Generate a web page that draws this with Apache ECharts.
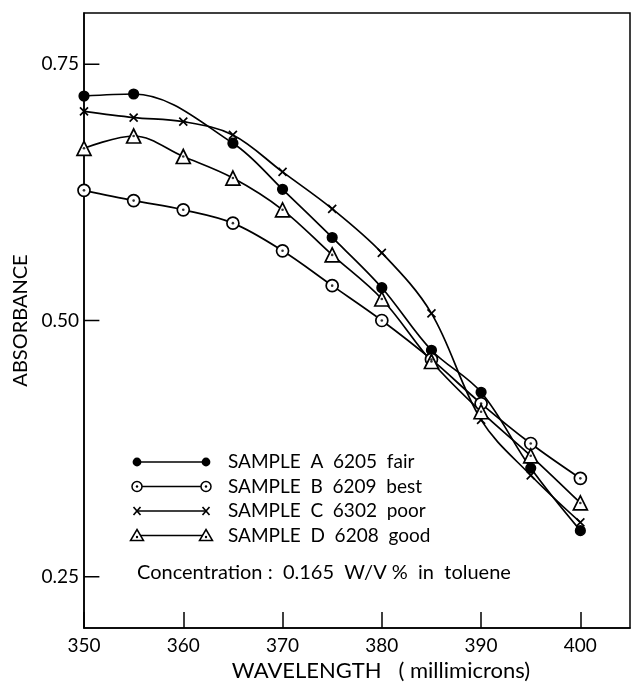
<!DOCTYPE html>
<html>
<head>
<meta charset="utf-8">
<script src="https://cdn.jsdelivr.net/npm/echarts@6/dist/echarts.min.js"></script>
<style>
html,body{margin:0;padding:0;background:#fff;}
#c{width:631px;height:687px;}
</style>
</head>
<body>
<div id="c"></div>
<script>
// ---- data ----
const wavelengths = [350, 355, 360, 365, 370, 375, 380, 385, 390, 395, 400];
const sampleA = [0.719, 0.721, null, 0.673, 0.628, 0.581, 0.532, 0.471, 0.430, 0.356, 0.295];
const sampleB = [0.627, 0.617, 0.608, 0.595, 0.568, 0.534, 0.500, 0.462, 0.419, 0.380, 0.346];
const sampleC = [0.704, 0.698, 0.694, 0.681, 0.645, 0.609, 0.566, 0.507, 0.403, 0.349, 0.303];
const sampleD = [0.668, 0.680, 0.660, 0.639, 0.608, 0.564, 0.521, 0.460, 0.411, 0.368, 0.322];
const xTicks = [350, 360, 370, 380, 390, 400];
const yTicks = [0.25, 0.50, 0.75];
const legendLabels = ['SAMPLE  A  6205  fair', 'SAMPLE  B  6209  best', 'SAMPLE  C  6302  poor', 'SAMPLE  D  6208  good'];
const noteText = 'Concentration :  0.165  W/V %  in  toluene';

const FONT = 'Lato, "Liberation Sans", sans-serif';
const pairs = arr => wavelengths.map((w, i) => [w, arr[i]]).filter(p => p[1] !== null);
const xPath = 'path://M0,0L10,10M10,0L0,10';
const X_MIN = 350, X_MAX = 405, Y_MIN = 0.2, Y_MAX = 0.8;

const chart = echarts.init(document.getElementById('c'), null, {renderer: 'canvas'});

function lineSeries(name, arr, symbol, size, fill) {
  return {
    name, type: 'line', data: pairs(arr), smooth: 0.35,
    symbol, symbolSize: size, showAllSymbol: true,
    lineStyle: {color: '#000', width: 1.7},
    itemStyle: {color: fill, borderColor: '#000', borderWidth: 1.7},
    z: 3
  };
}
function dotSeries(arr) {
  return {
    type: 'scatter', data: pairs(arr), symbol: 'circle', symbolSize: 2.6,
    itemStyle: {color: '#000'}, silent: true, z: 5
  };
}

// legend key drawn by hand
const legendGraphics = [];
const legendY0 = 462, legendDY = 24.5, lx1 = 137, lx2 = 206;
const legendSym = [
  (x, y) => ({type: 'circle', shape: {cx: x, cy: y, r: 4.4}, style: {fill: '#000'}}),
  (x, y) => ({type: 'group', children: [
      {type: 'circle', shape: {cx: x, cy: y, r: 5}, style: {fill: '#fff', stroke: '#000', lineWidth: 1.5}},
      {type: 'circle', shape: {cx: x, cy: y, r: 1.2}, style: {fill: '#000'}}]}),
  (x, y) => ({type: 'group', children: [
      {type: 'line', shape: {x1: x - 3.5, y1: y - 4, x2: x + 3.5, y2: y + 4}, style: {stroke: '#000', lineWidth: 1.6}},
      {type: 'line', shape: {x1: x + 3.5, y1: y - 4, x2: x - 3.5, y2: y + 4}, style: {stroke: '#000', lineWidth: 1.6}}]}),
  (x, y) => ({type: 'group', children: [
      {type: 'polygon', shape: {points: [[x, y - 6], [x + 6.5, y + 5], [x - 6.5, y + 5]]}, style: {fill: '#fff', stroke: '#000', lineWidth: 1.5}},
      {type: 'circle', shape: {cx: x, cy: y + 1.5, r: 1.2}, style: {fill: '#000'}}]})
];
legendLabels.forEach((lab, i) => {
  const y = legendY0 + i * legendDY;
  legendGraphics.push({type: 'line', shape: {x1: lx1, y1: y, x2: lx2, y2: y}, style: {stroke: '#000', lineWidth: 1.6}});
  legendGraphics.push(legendSym[i](lx1, y));
  legendGraphics.push(legendSym[i](lx2, y));
  legendGraphics.push({type: 'text', x: 228, y: y, style: {text: lab, font: '19px ' + FONT, fill: '#000', verticalAlign: 'middle'}});
});
legendGraphics.push({type: 'text', x: 137, y: 573, style: {text: noteText, font: '20px ' + FONT, fill: '#000', verticalAlign: 'middle'}});

// y-axis tick marks as short line segments (tick length expressed along the x scale)
const yTickLen = 1.55;
const yTickSeries = yTicks.map(v => ({
  type: 'line', data: [[X_MIN, v], [X_MIN + yTickLen, v]], symbol: 'none', silent: true,
  lineStyle: {color: '#000', width: 1.5}, z: 6
}));

const option = {
  animation: false,
  backgroundColor: '#fff',
  grid: {left: 84, right: 1, top: 13, bottom: 57, show: true, borderColor: '#000', borderWidth: 1.5},
  xAxis: {
    type: 'value', min: X_MIN, max: X_MAX, interval: 10,
    axisLine: {show: true, lineStyle: {color: '#000', width: 1.5}},
    axisTick: {show: true, inside: true, length: 16, lineStyle: {color: '#000', width: 1.5}},
    axisLabel: {margin: 8, color: '#000', fontSize: 19, fontFamily: FONT, showMaxLabel: false},
    splitLine: {show: false},
    name: 'WAVELENGTH   ( millimicrons)', nameLocation: 'middle', nameGap: 32,
    nameTextStyle: {color: '#000', fontSize: 22, fontFamily: FONT, padding: [0, 0, 0, 48]}
  },
  yAxis: {
    type: 'value', min: Y_MIN, max: Y_MAX,
    axisLine: {show: true, lineStyle: {color: '#000', width: 1.5}},
    axisTick: {show: false},
    axisLabel: {customValues: yTicks, margin: 5, color: '#000', fontSize: 19, fontFamily: FONT, formatter: v => v.toFixed(2)},
    splitLine: {show: false},
    name: 'ABSORBANCE', nameLocation: 'middle', nameGap: 53,
    nameTextStyle: {color: '#000', fontSize: 20, fontFamily: FONT}
  },
  series: [
    lineSeries('A', sampleA, 'circle', 9.5, '#000'),
    lineSeries('B', sampleB, 'circle', 12, '#fff'),
    lineSeries('C', sampleC, xPath, 8, 'none'),
    lineSeries('D', sampleD, 'triangle', 14, '#fff'),
    dotSeries(sampleB),
    dotSeries(sampleD)
  ].concat(yTickSeries),
  graphic: legendGraphics
};
chart.setOption(option);
</script>
</body>
</html>
